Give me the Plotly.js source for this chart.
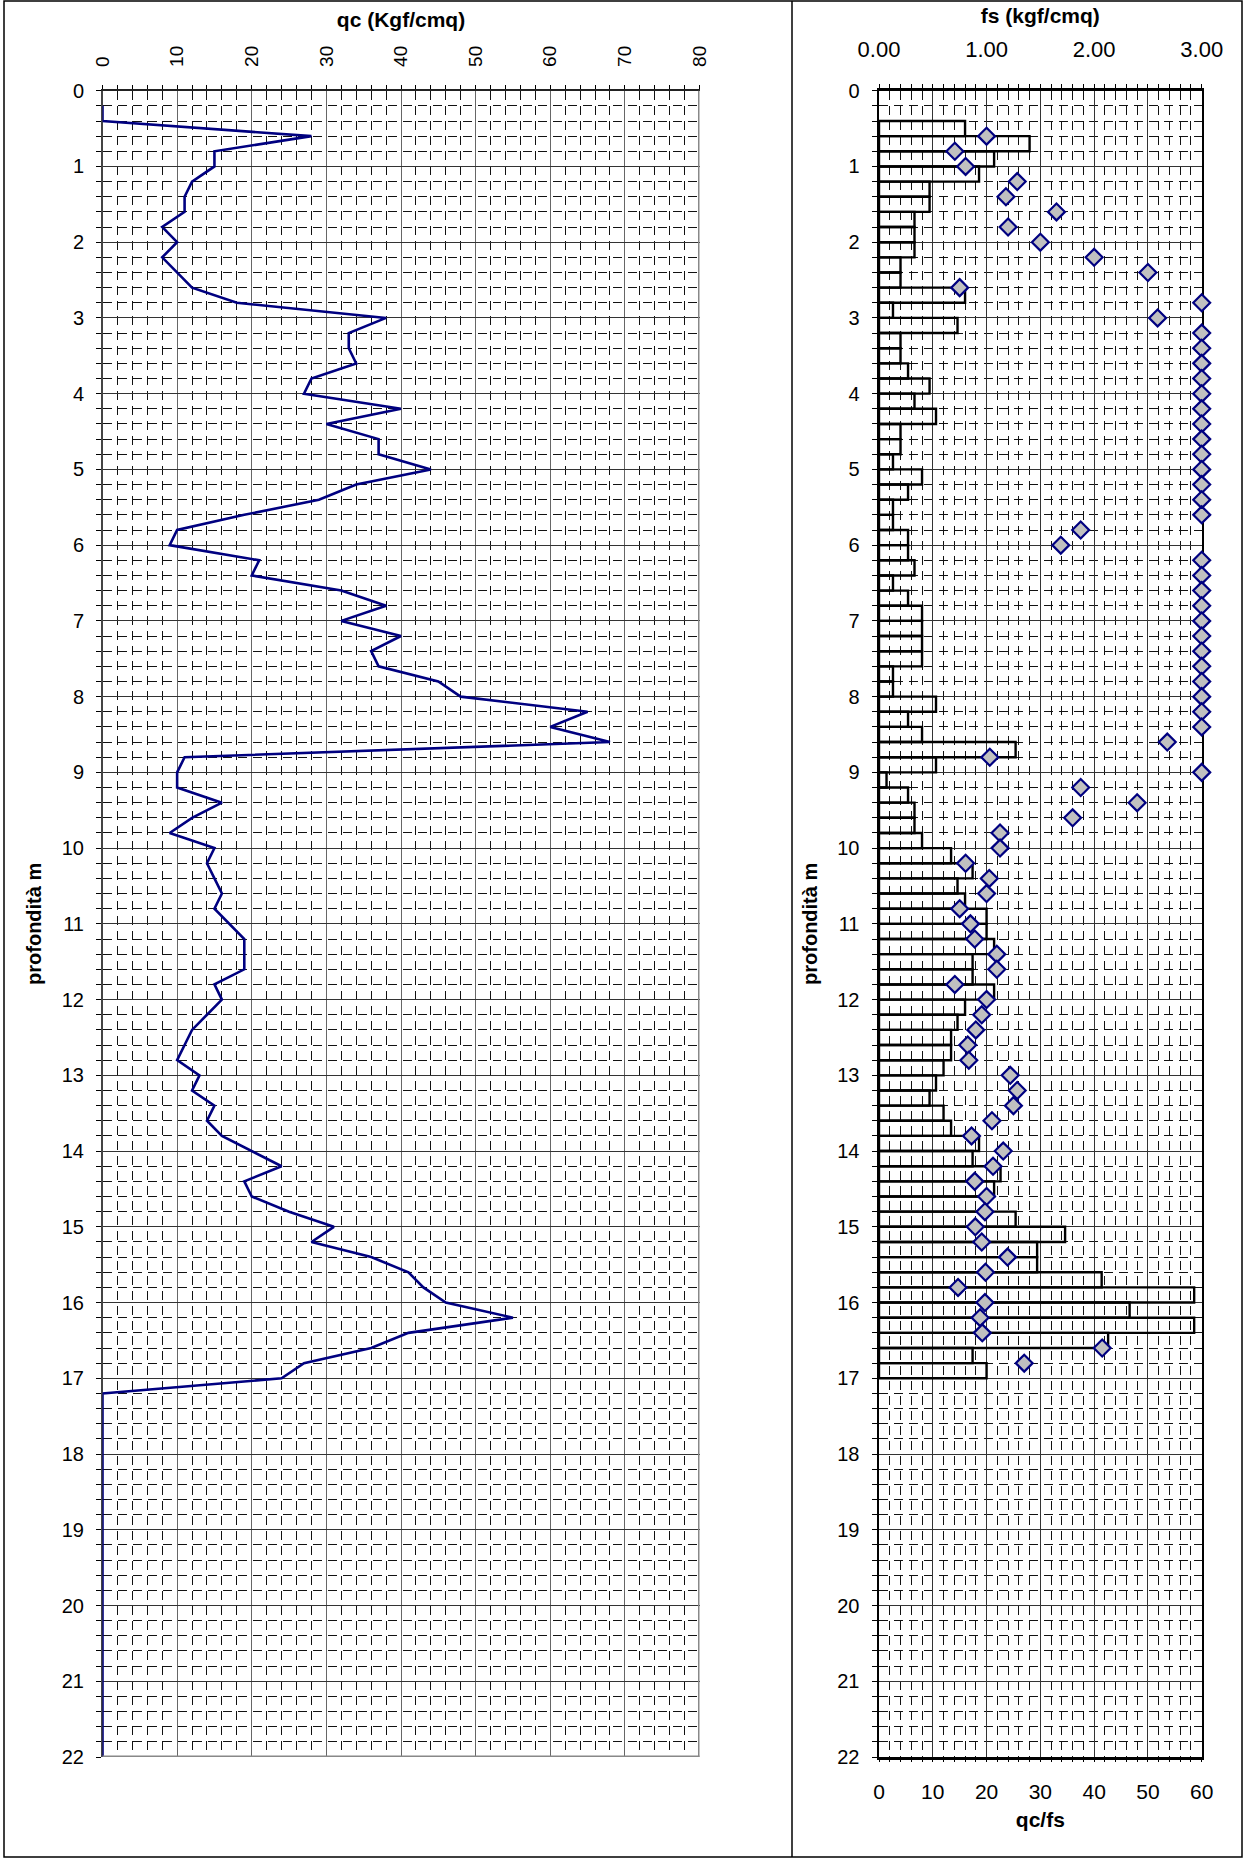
<!DOCTYPE html>
<html><head><meta charset="utf-8">
<script src="https://cdn.plot.ly/plotly-3.0.1.min.js"></script>
<style>html,body{margin:0;padding:0;background:#fff}#chart{width:1243px;height:1858px}</style>
</head><body><div id="chart"></div>
<script>
// ---- DATA ----
const qcDepth = [0.2,0.4,0.6,0.8,1.0,1.2,1.4,1.6,1.8,2.0,2.2,2.4,2.6,2.8,3.0,3.2,3.4,3.6,3.8,4.0,
  4.2,4.4,4.6,4.8,5.0,5.2,5.4,5.6,5.8,6.0,6.2,6.4,6.6,6.8,7.0,7.2,7.4,7.6,7.8,8.0,
  8.2,8.4,8.6,8.8,9.0,9.2,9.4,9.6,9.8,10.0,10.2,10.4,10.6,10.8,11.0,11.2,11.4,11.6,11.8,12.0,
  12.2,12.4,12.6,12.8,13.0,13.2,13.4,13.6,13.8,14.0,14.2,14.4,14.6,14.8,15.0,15.2,15.4,15.6,15.8,16.0,
  16.2,16.4,16.6,16.8,17.0,17.2,22.0];
const qcValues = [0,0,28,15,15,12,11,11,8,10,8,10,12,18,38,33,33,34,28,27,
  40,30,37,37,44,34,29,19,10,9,21,20,32,38,32,40,36,37,45,48,
  65,60,68,11,10,10,16,12,9,15,14,15,16,15,17,19,19,19,15,16,
  14,12,11,10,13,12,15,14,16,20,24,19,20,25,31,28,36,41,43,46,
  55,41,36,27,24,0,0];

const fsDepthTop = [0.4,0.6,0.8,1.0,1.2,1.4,1.6,1.8,2.0,2.2,2.4,2.6,2.8,3.0,3.2,3.4,3.6,3.8,4.0,
  4.2,4.4,4.6,4.8,5.0,5.2,5.4,5.6,5.8,6.0,6.2,6.4,6.6,6.8,7.0,7.2,7.4,7.6,7.8,8.0,
  8.2,8.4,8.6,8.8,9.0,9.2,9.4,9.6,9.8,10.0,10.2,10.4,10.6,10.8,11.0,11.2,11.4,11.6,11.8,12.0,
  12.2,12.4,12.6,12.8,13.0,13.2,13.4,13.6,13.8,14.0,14.2,14.4,14.6,14.8,15.0,15.2,15.4,15.6,15.8,16.0,
  16.2,16.4,16.6,16.8];
const fsValues = [0.80,1.40,1.07,0.93,0.47,0.47,0.33,0.33,0.33,0.20,0.20,0.80,0.13,0.73,0.20,0.20,0.27,0.47,0.33,
  0.53,0.20,0.20,0.13,0.40,0.27,0.13,0.13,0.27,0.27,0.33,0.13,0.27,0.40,0.40,0.40,0.40,0.13,0.13,0.53,
  0.27,0.40,1.27,0.53,0.07,0.27,0.33,0.33,0.40,0.67,0.87,0.73,0.80,1.00,1.00,1.07,0.87,0.87,1.07,0.80,
  0.73,0.67,0.67,0.60,0.53,0.47,0.60,0.67,0.93,0.87,1.13,1.07,1.00,1.27,1.73,1.47,1.47,2.07,2.93,2.33,
  2.93,2.13,0.87,1.00];

const ratioDepth = [0.6,0.8,1.0,1.2,1.4,1.6,1.8,2.0,2.2,2.4,2.6,2.8,3.0,3.2,3.4,3.6,3.8,4.0,
  4.2,4.4,4.6,4.8,5.0,5.2,5.4,5.6,5.8,6.0,6.2,6.4,6.6,6.8,7.0,7.2,7.4,7.6,7.8,8.0,
  8.2,8.4,8.6,8.8,9.0,9.2,9.4,9.6,9.8,10.0,10.2,10.4,10.6,10.8,11.0,11.2,11.4,11.6,11.8,12.0,
  12.2,12.4,12.6,12.8,13.0,13.2,13.4,13.6,13.8,14.0,14.2,14.4,14.6,14.8,15.0,15.2,15.4,15.6,15.8,16.0,
  16.2,16.4,16.6,16.8];
const ratioValues = [20.0,14.1,16.1,25.7,23.6,33.0,24.0,30.0,40.0,50.0,15.0,60,51.8,60,60,60,60,60,
  60,60,60,60,60,60,60,60,37.5,33.8,60,60,60,60,60,60,60,60,60,60,
  60,60,53.6,20.6,60,37.5,48.0,36.0,22.5,22.5,16.1,20.5,20.0,15.0,17.0,17.8,21.9,21.9,14.1,20.0,
  19.1,18.0,16.5,16.7,24.4,25.7,25.0,21.0,17.2,23.1,21.2,17.8,20.0,19.7,17.9,19.1,23.9,19.8,14.7,19.7,
  18.8,19.2,41.5,27.0];

const qcTicks = [0,10,20,30,40,50,60,70,80];
const fsTicks = [0,1,2,3];
const fsTickLabels = ['0.00','1.00','2.00','3.00'];
const ratioTicks = [0,10,20,30,40,50,60];
const depthTicks = [0,1,2,3,4,5,6,7,8,9,10,11,12,13,14,15,16,17,18,19,20,21,22];

// ---- LAYOUT ----
const W = 1243, H = 1858;
const px = x => x / W;
const py = y => 1 - y / H;
const FONT = 'Liberation Sans, Arial, sans-serif';
const NAVY = '#000080';

const minorGrid = {showgrid:true, gridcolor:'#111', gridwidth:1, griddash:'9px,6px'};

const traces = [
  {type:'scatter', mode:'lines', x:qcValues, y:qcDepth, xaxis:'x', yaxis:'y',
   line:{color:NAVY, width:2.6}, hoverinfo:'skip'},
  {type:'bar', orientation:'h', x:fsValues, y:fsDepthTop, width:0.2, offset:0,
   xaxis:'x2', yaxis:'y2',
   marker:{color:'rgba(0,0,0,0)', line:{color:'#000', width:2.4}}, hoverinfo:'skip'},
  {type:'scatter', mode:'markers', x:ratioValues, y:ratioDepth, xaxis:'x3', yaxis:'y2',
   cliponaxis:false,
   marker:{symbol:'diamond', size:13, color:'#c0c0c0', line:{color:NAVY, width:2.2}}, hoverinfo:'skip'}
];

const layout = {
  width:W, height:H, margin:{l:0,r:0,t:0,b:0}, showlegend:false,
  paper_bgcolor:'#fff', plot_bgcolor:'#fff',
  font:{family:FONT, color:'#000', size:16},
  xaxis:{domain:[px(102.5), px(699.5)], anchor:'y', side:'top', range:[0,80],
    tickmode:'array', tickvals:qcTicks, ticktext:qcTicks.map(String), tickangle:-90,
    ticks:'outside', ticklen:4, tickcolor:'#000', tickfont:{size:19}, ticklabelstandoff:14,
    showline:true, linecolor:'#222', linewidth:2, zeroline:false,
    showgrid:true, gridcolor:'#666', gridwidth:1, layer:'below traces',
    minor:Object.assign({dtick:2, ticks:'outside', ticklen:4, tickcolor:'#000'}, minorGrid),
    title:{text:'qc (Kgf/cmq)', font:{size:21, weight:700}, standoff:12}, fixedrange:true},
  yaxis:{domain:[py(1757), py(90.7)], anchor:'x', range:[22,0],
    tickmode:'array', tickvals:depthTicks, ticktext:depthTicks.map(String),
    ticks:'outside', ticklen:5, tickcolor:'#000', tickfont:{size:20}, ticklabelstandoff:8,
    showline:true, linecolor:'#444', linewidth:1.5, zeroline:false,
    showgrid:true, gridcolor:'#333', gridwidth:1, layer:'below traces',
    minor:Object.assign({dtick:0.2, ticks:'outside', ticklen:5, tickcolor:'#000'}, minorGrid),
    title:{text:'profondità m', font:{size:20, weight:700}, standoff:14}, fixedrange:true},
  xaxis2:{domain:[px(879), px(1201.7)], anchor:'y2', side:'top', range:[0,3],
    tickmode:'array', tickvals:fsTicks, ticktext:fsTickLabels,
    ticks:'outside', ticklen:4, tickcolor:'#000', tickfont:{size:22}, ticklabelstandoff:18,
    showline:true, mirror:true, linecolor:'#000', linewidth:2.5, zeroline:false,
    showgrid:false, layer:'below traces',
    minor:{dtick:0.1, ticks:'outside', ticklen:4, tickcolor:'#000', showgrid:false},
    title:{text:'fs (kgf/cmq)', font:{size:21, weight:700}, standoff:8}, fixedrange:true},
  xaxis3:{overlaying:'x2', anchor:'y2', side:'bottom', range:[0,60],
    tickmode:'array', tickvals:ratioTicks, ticktext:ratioTicks.map(String),
    ticks:'outside', ticklen:4, tickcolor:'#000', tickfont:{size:21}, ticklabelstandoff:12,
    showline:false, zeroline:false, showgrid:true, gridcolor:'#333', gridwidth:1, layer:'below traces',
    minor:Object.assign({dtick:2, ticks:'outside', ticklen:4, tickcolor:'#000'}, minorGrid),
    title:{text:'qc/fs', font:{size:21, weight:700}, standoff:10}, fixedrange:true},
  yaxis2:{domain:[py(1757), py(90.7)], anchor:'x2', range:[22,0],
    tickmode:'array', tickvals:depthTicks, ticktext:depthTicks.map(String),
    ticks:'outside', ticklen:5, tickcolor:'#000', tickfont:{size:20}, ticklabelstandoff:8,
    showline:true, mirror:true, linecolor:'#000', linewidth:2.5, zeroline:false,
    showgrid:true, gridcolor:'#333', gridwidth:1, layer:'below traces',
    minor:Object.assign({dtick:0.2, ticks:'outside', ticklen:5, tickcolor:'#000'}, minorGrid),
    title:{text:'profondità m', font:{size:20, weight:700}, standoff:14}, fixedrange:true},
  shapes:[
    {type:'line', xref:'x', yref:'y domain', x0:80, x1:80, y0:0, y1:1, line:{color:'#888', width:3}},
    {type:'line', xref:'x domain', yref:'y', x0:0, x1:1, y0:22, y1:22, line:{color:'#888', width:3}},
    {type:'rect', xref:'paper', yref:'paper', x0:px(4), x1:px(1242), y0:py(1857), y1:py(1), line:{color:'#000', width:1.5}},
    {type:'line', xref:'paper', yref:'paper', x0:px(792), x1:px(792), y0:py(1857), y1:py(1), line:{color:'#000', width:1.5}}
  ]
};

Plotly.newPlot('chart', traces, layout, {staticPlot:true, displayModeBar:false});
</script>
</body></html>
